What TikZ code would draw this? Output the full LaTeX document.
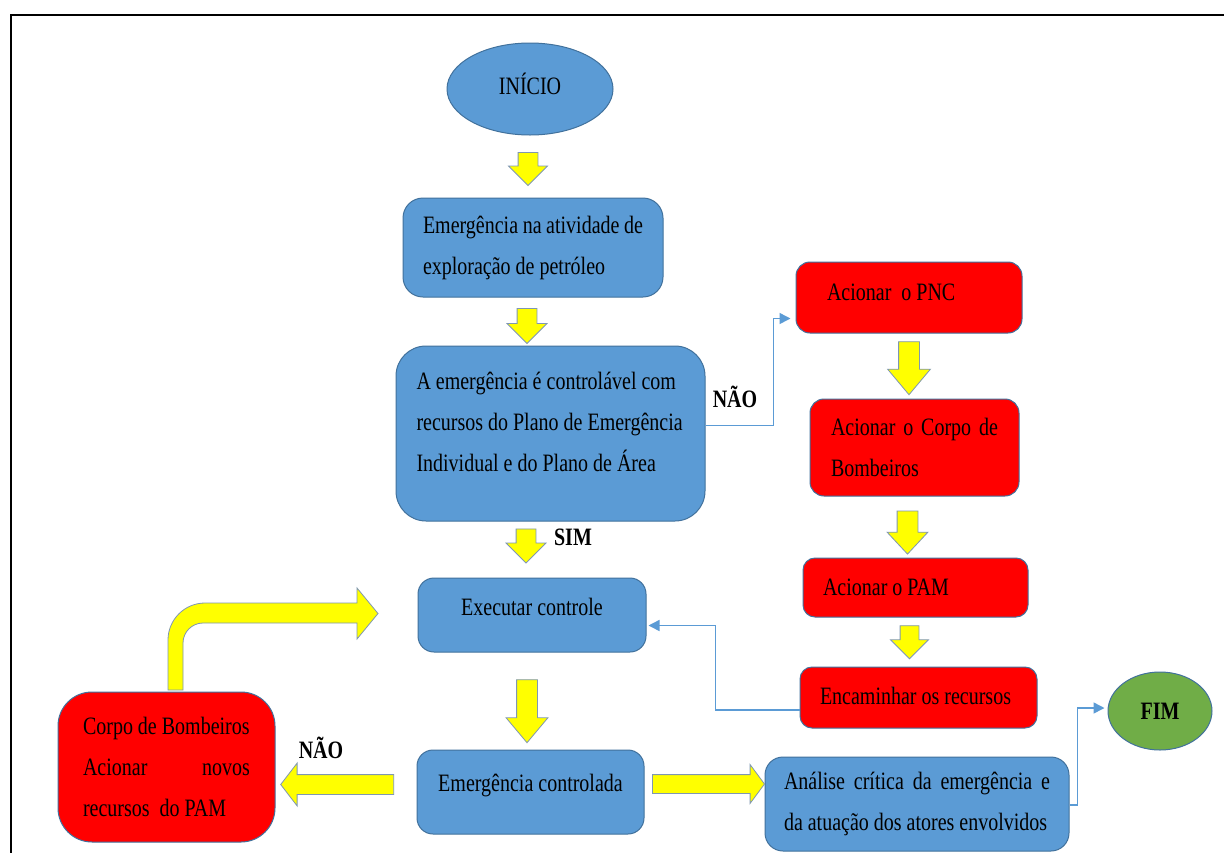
\documentclass[tikz,border=0pt]{standalone}
\usepackage{fontspec}
\setmainfont{Liberation Serif}[FakeStretch=0.8]
\usetikzlibrary{shapes.geometric,shapes.arrows,arrows.meta,calc}
\definecolor{bfill}{HTML}{5B9BD5}
\definecolor{bline}{HTML}{41719C}
\definecolor{rfill}{HTML}{FF0000}
\definecolor{yfill}{HTML}{FFFF00}
\definecolor{yline}{HTML}{7F97B2}
\definecolor{gfill}{HTML}{70AD47}
\definecolor{cline}{HTML}{5B9BD5}
\newcommand{\bt}[3]{\raisebox{#2}[\height][\depth]{\parbox{#1}{\raggedright #3}}}
\begin{document}
\begin{tikzpicture}[x=1pt,y=-1pt,
  font=\fontsize{25}{41}\selectfont,
  box/.style={draw=bline,line width=1pt,inner sep=0pt,rounded corners=#1},
  bluebox/.style={box=#1,fill=bfill},
  redbox/.style={box=#1,fill=rfill},
  oval/.style={ellipse,draw=bline,line width=1pt,inner sep=0pt},
  yarr/.style 2 args={shape=single arrow,draw=yline,fill=yfill,line width=0.8pt,inner xsep=0pt,inner ysep=#1,single arrow head extend=#2},
  lbl/.style={font=\fontsize{25}{30}\selectfont\bfseries,inner sep=0pt},
  conn/.style={draw=cline,line width=1.5pt,-{Triangle[length=11pt,width=11pt]}}
]
\useasboundingbox (0,0) rectangle (1224,852);
\fill[white] (0,0) rectangle (1224,852);
\begin{scope}
\clip (0,0) rectangle (1224,852);
\draw[line width=2.5pt,black] (1230,15) -- (11,15) -- (11,860);

% nodes
\node[oval,fill=bfill,minimum width=166pt,minimum height=92pt] (ini) at (530,89) {\raisebox{5pt}[\height][\depth]{INÍCIO}};
\node[bluebox=20pt,minimum width=260pt,minimum height=99pt] (b1) at (533,247.5)
  {\bt{220pt}{0pt}{Emergência na atividade de\\exploração de petróleo}};
\node[bluebox=30pt,minimum width=309pt,minimum height=175pt] (b2) at (550.5,433.5)
  {\bt{268pt}{12pt}{A emergência é controlável com\\recursos do Plano de Emergência\\Individual e do Plano de Área}};
\node[redbox=14pt,minimum width=226pt,minimum height=71pt] (pnc) at (909,297.5)
  {\bt{164pt}{5pt}{Acionar\ \ o PNC}};
\node[redbox=14pt,minimum width=209pt,minimum height=97pt] (corpo) at (914.5,447.5)
  {\bt{167pt}{0pt}{Acionar \hfill o \hfill Corpo \hfill de\\Bombeiros}};
\node[redbox=12pt,minimum width=225pt,minimum height=59pt] (pam) at (915.5,587.5)
  {\bt{185pt}{0pt}{Acionar o PAM}};
\node[redbox=12pt,minimum width=237pt,minimum height=61pt] (enc) at (918.5,697.5)
  {\bt{197pt}{2pt}{Encaminhar os recursos}};
\node[bluebox=16pt,minimum width=228pt,minimum height=74pt] (exe) at (532,615)
  {\raisebox{8pt}[\height][\depth]{Executar controle}};
\node[bluebox=16pt,minimum width=227pt,minimum height=84pt] (ctrl) at (530.5,792)
  {\raisebox{7pt}[\height][\depth]{Emergência controlada}};
\node[bluebox=18pt,minimum width=304pt,minimum height=94pt] (ana) at (917,804)
  {\bt{266pt}{0pt}{Análise \hfill crítica \hfill da \hfill emergência \hfill e\\\mbox{da atuação dos atores envolvidos}}};
\node[redbox=34pt,minimum width=217pt,minimum height=150pt] (lred) at (166.5,767)
  {\bt{167pt}{0pt}{Corpo de Bombeiros\\Acionar \hfill novos\\recursos\ \ do PAM}};
\node[oval,fill=gfill,minimum width=104pt,minimum height=78pt,font=\fontsize{25}{30}\selectfont\bfseries] (fim) at (1160,711) {FIM};

% labels
\node[lbl] (nao1) at (735,397) {NÃO};
\node[lbl] (sim) at (573,537) {SIM};
\node[lbl] (nao2) at (321,748) {NÃO};

% yellow block arrows
\node[yarr={9.5pt}{9.5pt},minimum height=33pt,rotate=-90] (y1) at (528,164) {};
\node[yarr={9.5pt}{10pt},minimum height=35pt,rotate=-90] (y2) at (527,321) {};
\node[yarr={9.5pt}{10pt},minimum height=34pt,rotate=-90] (y3) at (526,541) {};
\node[yarr={10pt}{10.5pt},minimum height=63pt,single arrow tip angle=80,rotate=-90] (y4) at (527,705) {};
\node[yarr={10pt}{11pt},minimum height=53pt,single arrow tip angle=80,rotate=-90] (y5) at (909,362) {};
\node[yarr={10pt}{10pt},minimum height=43pt,single arrow tip angle=86,rotate=-90] (y6) at (907.5,527) {};
\node[yarr={9pt}{9.5pt},minimum height=33pt,rotate=-90] (y7) at (909.5,637.5) {};
\node[yarr={9.5pt}{11.5pt},minimum height=113pt,single arrow tip angle=105,rotate=180] (y8) at (341,784.5) {};
\node[yarr={9pt}{10pt},minimum height=112pt,single arrow tip angle=107] (y9) at (705,784) {};

% bent arrow from lred to exe
\draw[draw=yline,fill=yfill,line width=0.8pt]
  (168,690) -- (168,640) .. controls (168,619.6) and (184.6,603) .. (205,603)
  -- (357,603) -- (357,588) -- (378,613.5) -- (357,639) -- (357,623)
  -- (203,623) .. controls (192,623) and (183,632) .. (183,643) -- (183,690) -- cycle;

% connectors
\draw[conn,shorten >=5pt] ([yshift=8pt]b2.east) -- ++(68,0) |- ([yshift=-21pt]pnc.west);
\draw[conn,shorten >=2pt] ([yshift=-12.5pt]enc.west) -- ++(-84,0) |- ([yshift=-10.5pt]exe.east);
\draw[conn,shorten >=3pt] ([yshift=-1pt]ana.east) -- ++(8,0) |- ([yshift=3pt]fim.west);
\end{scope}
\end{tikzpicture}
\end{document}
